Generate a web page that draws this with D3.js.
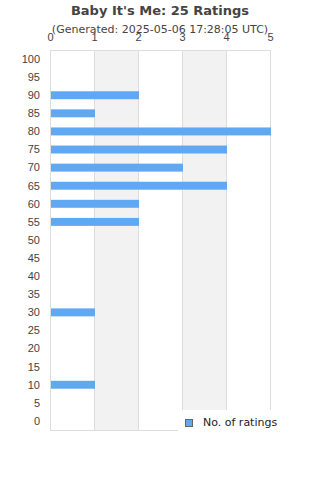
<!DOCTYPE html>
<meta charset="utf-8">
<style>
  body { margin: 0; background: #fff; }
  svg { font-family: "DejaVu Sans", sans-serif; }
  .title { font-size: 13px; font-weight: bold; fill: #444; }
  .subtitle { font-size: 11px; fill: #444; }
  .axis text { font-size: 11px; fill: #444; }
  .legendText { font-size: 11px; fill: #222; }
</style>
<svg id="chart" width="320" height="480"></svg>
<script src="https://d3js.org/d3.v7.min.js"></script>
<script>
var ratings = ["100", "95", "90", "85", "80", "75", "70", "65", "60", "55", "50",
               "45", "40", "35", "30", "25", "20", "15", "10", "5", "0"];
var counts  = [0, 0, 2, 1, 5, 4, 3, 4, 2, 2, 0,
               0, 0, 0, 1, 0, 0, 0, 1, 0, 0];
var xTicks = [0, 1, 2, 3, 4, 5];
var titleText = "Baby It's Me: 25 Ratings";
var subtitleText = "(Generated: 2025-05-06 17:28:05 UTC)";
var seriesName = "No. of ratings";

var svg = d3.select("#chart"),
    margin = {top: 50, right: 50, bottom: 50, left: 50},
    width = +svg.attr("width") - margin.left - margin.right,
    height = +svg.attr("height") - margin.top - margin.bottom,
    g = svg.append("g").attr("transform", "translate(" + margin.left + "," + margin.top + ")");

var x = d3.scaleLinear().domain([0, 5]).range([0, width]);
var y = d3.scaleBand().domain(ratings).range([0, height]).paddingInner(0.56).paddingOuter(0.28);

// alternating shaded bands
g.selectAll(".band")
  .data(xTicks.slice(0, -1).filter(function(d) { return d % 2 === 1; }))
  .enter().append("rect")
    .attr("x", function(d) { return x(d); })
    .attr("y", 0)
    .attr("width", function(d) { return x(d + 1) - x(d); })
    .attr("height", height)
    .attr("fill", "#f2f2f2");

// grid lines
g.selectAll(".grid")
  .data(xTicks)
  .enter().append("line")
    .attr("x1", function(d) { return x(d) + 0.5; })
    .attr("x2", function(d) { return x(d) + 0.5; })
    .attr("y1", 0)
    .attr("y2", height)
    .attr("stroke", "#dddddd");

g.append("rect")
  .attr("x", 0.5).attr("y", 0.5)
  .attr("width", width).attr("height", height)
  .attr("fill", "none")
  .attr("stroke", "#dddddd");

// bars
g.selectAll(".bar")
  .data(ratings.map(function(r, i) { return {r: r, c: counts[i]}; }).filter(function(d) { return d.c > 0; }))
  .enter().append("rect")
    .attr("x", x(0) + 1)
    .attr("y", function(d) { return y(d.r); })
    .attr("width", function(d) { return x(d.c) - x(0); })
    .attr("height", y.bandwidth())
    .attr("fill", "#61a8f3");

// top axis
var xAxis = g.append("g").attr("class", "axis")
  .call(d3.axisTop(x).tickValues(xTicks).tickFormat(d3.format("d")).tickSize(0).tickPadding(9));
xAxis.select(".domain").remove();

// left axis
var yAxis = g.append("g").attr("class", "axis")
  .call(d3.axisLeft(y).tickSize(0).tickPadding(10));
yAxis.select(".domain").remove();
yAxis.selectAll("text").attr("dy", "0.35em");

// titles
svg.append("text").attr("class", "title")
  .attr("x", 160).attr("y", 15)
  .attr("text-anchor", "middle")
  .text(titleText);
svg.append("text").attr("class", "subtitle")
  .attr("x", 160).attr("y", 33)
  .attr("text-anchor", "middle")
  .text(subtitleText);

// legend
var legend = svg.append("g");
legend.append("rect")
  .attr("x", 178).attr("y", 410)
  .attr("width", 112).attr("height", 26)
  .attr("fill", "#fff");
legend.append("rect")
  .attr("x", 185.5).attr("y", 419.5)
  .attr("width", 7).attr("height", 7)
  .attr("fill", "#61a8f3")
  .attr("stroke", "#666");
legend.append("text").attr("class", "legendText")
  .attr("x", 203).attr("y", 426)
  .text(seriesName);
</script>
